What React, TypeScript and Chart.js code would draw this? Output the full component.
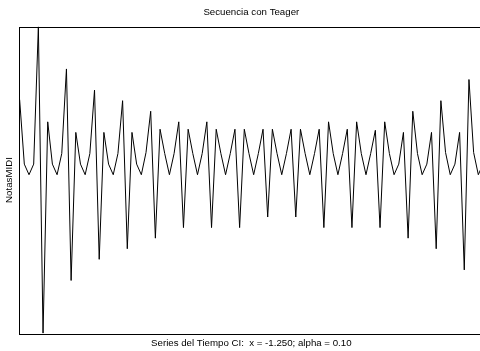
import React, { useEffect, useRef } from "react";
import { Chart, registerables } from "chart.js";

Chart.register(...registerables);

const titleText = "Secuencia con Teager";
const xAxisTitle = "Series del Tiempo CI:  x = -1.250; alpha = 0.10";
const yAxisTitle = "NotasMIDI";

// MIDI-like note values (100 samples)
const notas: number[] = [
  72.1, 66, 65, 66, 79, 50, 70, 66, 65, 67,
  75, 55, 69, 66, 65, 67, 73, 57, 69, 66,
  65, 67, 72, 58, 69, 66, 65, 67.1, 71, 59,
  69.3, 67, 65, 67, 70, 60, 69.3, 67, 65, 67,
  70, 60, 69.3, 67, 65, 67, 69.3, 60, 69.3, 67,
  65, 67, 69.3, 61, 69.3, 67, 65, 67, 69.3, 61,
  69.3, 67, 65, 67, 69.3, 60, 70, 67, 65, 67,
  69.3, 60, 70, 67, 65, 67, 69.2, 60, 70, 67,
  65, 66, 69, 59, 71, 67, 65, 66, 69, 58,
  72, 67.1, 65, 66, 69, 56, 74, 67.1, 65, 66,
];

const tiempo: number[] = notas.map((_, i) => i);

const FONT = "'Liberation Sans', Arial, sans-serif";
const FSIZE = 9.7;

const framePlugin = {
  id: "frame",
  beforeDatasetsDraw(chart: any) {
    const { ctx, chartArea } = chart;
    ctx.save();
    ctx.strokeStyle = "#000";
    ctx.lineWidth = 1;
    ctx.strokeRect(
      Math.round(chartArea.left) - 0.5,
      Math.round(chartArea.top) + 0.5,
      Math.round(chartArea.right - chartArea.left) + 1,
      Math.round(chartArea.bottom - chartArea.top)
    );
    ctx.restore();
  },
};

export default function App() {
  const canvasRef = useRef<HTMLCanvasElement | null>(null);

  useEffect(() => {
    const canvas = canvasRef.current;
    if (!canvas) return;
    const yMin = Math.min(...notas);
    const yMax = Math.max(...notas);
    const chart = new Chart(canvas, {
      type: "line",
      data: {
        labels: tiempo,
        datasets: [
          {
            data: tiempo.map((t, i) => ({ x: t, y: notas[i] })),
            borderColor: "#000",
            borderWidth: 1,
            pointRadius: 0,
            tension: 0,
            fill: false,
          },
        ],
      },
      options: {
        animation: false,
        responsive: false,
        devicePixelRatio: 1,
        layout: { padding: 0 },
        font: { family: FONT, size: FSIZE },
        plugins: {
          legend: { display: false },
          tooltip: { enabled: false },
          title: {
            display: true,
            fullSize: false,
            text: titleText,
            color: "#000",
            font: { family: FONT, size: FSIZE, weight: "normal", lineHeight: 1.2 },
            padding: { top: 7, bottom: 8 },
          },
        },
        scales: {
          x: {
            type: "linear",
            min: 0,
            max: tiempo[tiempo.length - 1],
            ticks: { display: false },
            grid: { display: false, drawTicks: false },
            border: { display: false },
            title: {
              display: true,
              text: xAxisTitle,
              color: "#000",
              font: { family: FONT, size: FSIZE, lineHeight: 1.2 },
              padding: { top: 4, bottom: 2 },
            },
          },
          y: {
            min: yMin,
            max: yMax,
            ticks: { display: false },
            grid: { display: false, drawTicks: false },
            border: { display: false },
            title: {
              display: true,
              text: yAxisTitle,
              color: "#000",
              font: { family: FONT, size: FSIZE, lineHeight: 1.2 },
              padding: { top: 4, bottom: 4 },
            },
          },
        },
      },
      plugins: [framePlugin],
    });
    return () => chart.destroy();
  }, []);

  return (
    <div
      style={{
        position: "fixed",
        left: 0,
        top: 0,
        width: 480,
        height: 351,
        overflow: "hidden",
        background: "#fff",
      }}
    >
      <canvas ref={canvasRef} width={483} height={351} style={{ display: "block" }} />
    </div>
  );
}
